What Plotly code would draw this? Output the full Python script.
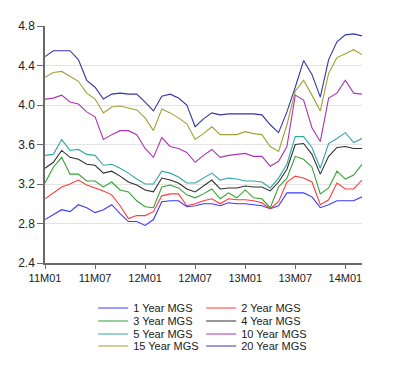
import plotly.graph_objects as go

months = [f"{y}M{m:02d}" for y in (11, 12, 13, 14) for m in range(1, 13)][:39]
tick_labels = ["11M01", "11M07", "12M01", "12M07", "13M01", "13M07", "14M01"]

y1 = [2.84, 2.89, 2.94, 2.92, 2.99, 2.96, 2.91, 2.94, 2.99, 2.90, 2.82, 2.82, 2.78, 2.84, 3.02, 3.03, 3.03, 2.97, 2.98, 3.00,
      3.00, 2.98, 3.01, 3.00, 3.00, 2.99, 2.98, 2.95, 2.98, 3.11, 3.11, 3.11, 3.07, 2.96, 2.99, 3.03, 3.03, 3.03, 3.07]
y2 = [3.05, 3.11, 3.17, 3.20, 3.24, 3.19, 3.16, 3.13, 3.09, 2.98, 2.85, 2.88, 2.88, 2.92, 3.08, 3.10, 3.10, 2.98, 3.00, 3.03,
      3.05, 3.00, 3.05, 3.04, 3.04, 3.03, 3.01, 2.95, 3.02, 3.22, 3.28, 3.26, 3.22, 2.99, 3.04, 3.21, 3.15, 3.15, 3.24]
y3 = [3.21, 3.37, 3.47, 3.30, 3.30, 3.23, 3.23, 3.17, 3.22, 3.14, 3.12, 3.03, 2.97, 2.96, 3.17, 3.19, 3.16, 3.09, 3.06, 3.10,
      3.15, 3.05, 3.11, 3.06, 3.14, 3.06, 3.05, 2.96, 3.17, 3.26, 3.48, 3.45, 3.37, 3.10, 3.16, 3.33, 3.25, 3.29, 3.40]
y4 = [3.36, 3.42, 3.54, 3.47, 3.45, 3.40, 3.39, 3.31, 3.33, 3.28, 3.22, 3.19, 3.14, 3.12, 3.26, 3.24, 3.21, 3.15, 3.12, 3.18,
      3.24, 3.15, 3.16, 3.16, 3.18, 3.17, 3.17, 3.13, 3.22, 3.35, 3.60, 3.61, 3.50, 3.30, 3.48, 3.57, 3.58, 3.56, 3.56]
y5 = [3.49, 3.50, 3.65, 3.54, 3.55, 3.50, 3.49, 3.39, 3.40, 3.36, 3.31, 3.25, 3.20, 3.20, 3.33, 3.31, 3.27, 3.21, 3.21, 3.26,
      3.31, 3.24, 3.26, 3.25, 3.23, 3.23, 3.22, 3.16, 3.26, 3.40, 3.68, 3.68, 3.57, 3.36, 3.61, 3.66, 3.72, 3.62, 3.66]
y10 = [4.06, 4.07, 4.10, 4.03, 4.01, 3.93, 3.88, 3.65, 3.70, 3.74, 3.74, 3.70, 3.56, 3.47, 3.67, 3.58, 3.56, 3.52, 3.42, 3.49,
       3.55, 3.47, 3.49, 3.50, 3.51, 3.48, 3.48, 3.38, 3.43, 3.58, 4.10, 4.05, 3.77, 3.63, 4.07, 4.12, 4.25, 4.12, 4.11]
y15 = [4.28, 4.33, 4.34, 4.29, 4.24, 4.12, 4.06, 3.92, 3.98, 3.99, 3.97, 3.95, 3.87, 3.74, 3.96, 3.92, 3.87, 3.81, 3.65, 3.71,
       3.78, 3.70, 3.70, 3.70, 3.73, 3.71, 3.70, 3.58, 3.53, 3.80, 4.14, 4.25, 4.10, 3.94, 4.32, 4.48, 4.52, 4.56, 4.51]
y20 = [4.49, 4.55, 4.55, 4.55, 4.46, 4.25, 4.18, 4.06, 4.11, 4.12, 4.11, 4.11, 4.03, 3.94, 4.09, 4.11, 4.07, 4.00, 3.78, 3.86,
       3.92, 3.90, 3.91, 3.91, 3.91, 3.91, 3.90, 3.80, 3.72, 3.93, 4.18, 4.45, 4.31, 4.08, 4.46, 4.64, 4.71, 4.72, 4.70]

names = ["1 Year MGS", "2 Year MGS", "3 Year MGS", "4 Year MGS",
         "5 Year MGS", "10 Year MGS", "15 Year MGS", "20 Year MGS"]
series = [y1, y2, y3, y4, y5, y10, y15, y20]
colors = ["#3a3aff", "#ff3a3a", "#33a033", "#303030",
          "#33a5a5", "#a835b0", "#a0a035", "#3535a5"]

x_idx = list(range(len(months)))
font = "Liberation Sans, Arial, sans-serif"

PLOT_H = 237  # plot-area height in px
# one horizontal legend per row (2 entries each) so the row spacing can be tight
legend_ids = ["legend", "legend2", "legend3", "legend4"]
row_offsets_px = [45, 58, 71, 83]  # distance of each legend row below the x axis

fig = go.Figure()
for i, (name, ys, col) in enumerate(zip(names, series, colors)):
    fig.add_trace(go.Scatter(x=x_idx, y=ys, mode="lines", name=name,
                             legend=legend_ids[i // 2],
                             line=dict(color=col, width=1.1)))

legend_layouts = {}
for lid, off in zip(legend_ids, row_offsets_px):
    legend_layouts[lid] = dict(orientation="h", x=0.152, xanchor="left",
                               y=-off / PLOT_H, yanchor="middle",
                               entrywidth=63, entrywidthmode="pixels",
                               font=dict(family=font, size=11, color="#222222"),
                               itemwidth=30, bgcolor="rgba(0,0,0,0)")

fig.update_layout(
    width=392, height=369,
    margin=dict(l=37, r=38, t=18, b=114, autoexpand=False),
    paper_bgcolor="white", plot_bgcolor="white",
    font=dict(family=font, size=11, color="#222222"),
    showlegend=True,
    xaxis=dict(range=[0, 38], tickmode="array",
               tickvals=[months.index(t) for t in tick_labels], ticktext=tick_labels,
               showgrid=False, zeroline=False, showline=True, linecolor="#6a6a6a", linewidth=1.5,
               ticks="outside", ticklen=4, tickcolor="#6a6a6a",
               tickfont=dict(family=font, size=11, color="#222222")),
    yaxis=dict(range=[2.4, 4.8], dtick=0.4, tick0=2.4, tickformat=".1f",
               showgrid=True, gridcolor="#e4e4e4", gridwidth=1, zeroline=False,
               showline=True, linecolor="#6a6a6a", linewidth=1.5,
               ticks="outside", ticklen=6, tickcolor="#6a6a6a",
               tickfont=dict(family=font, size=12, color="#222222")),
    **legend_layouts,
)

fig.write_html("out.html")
